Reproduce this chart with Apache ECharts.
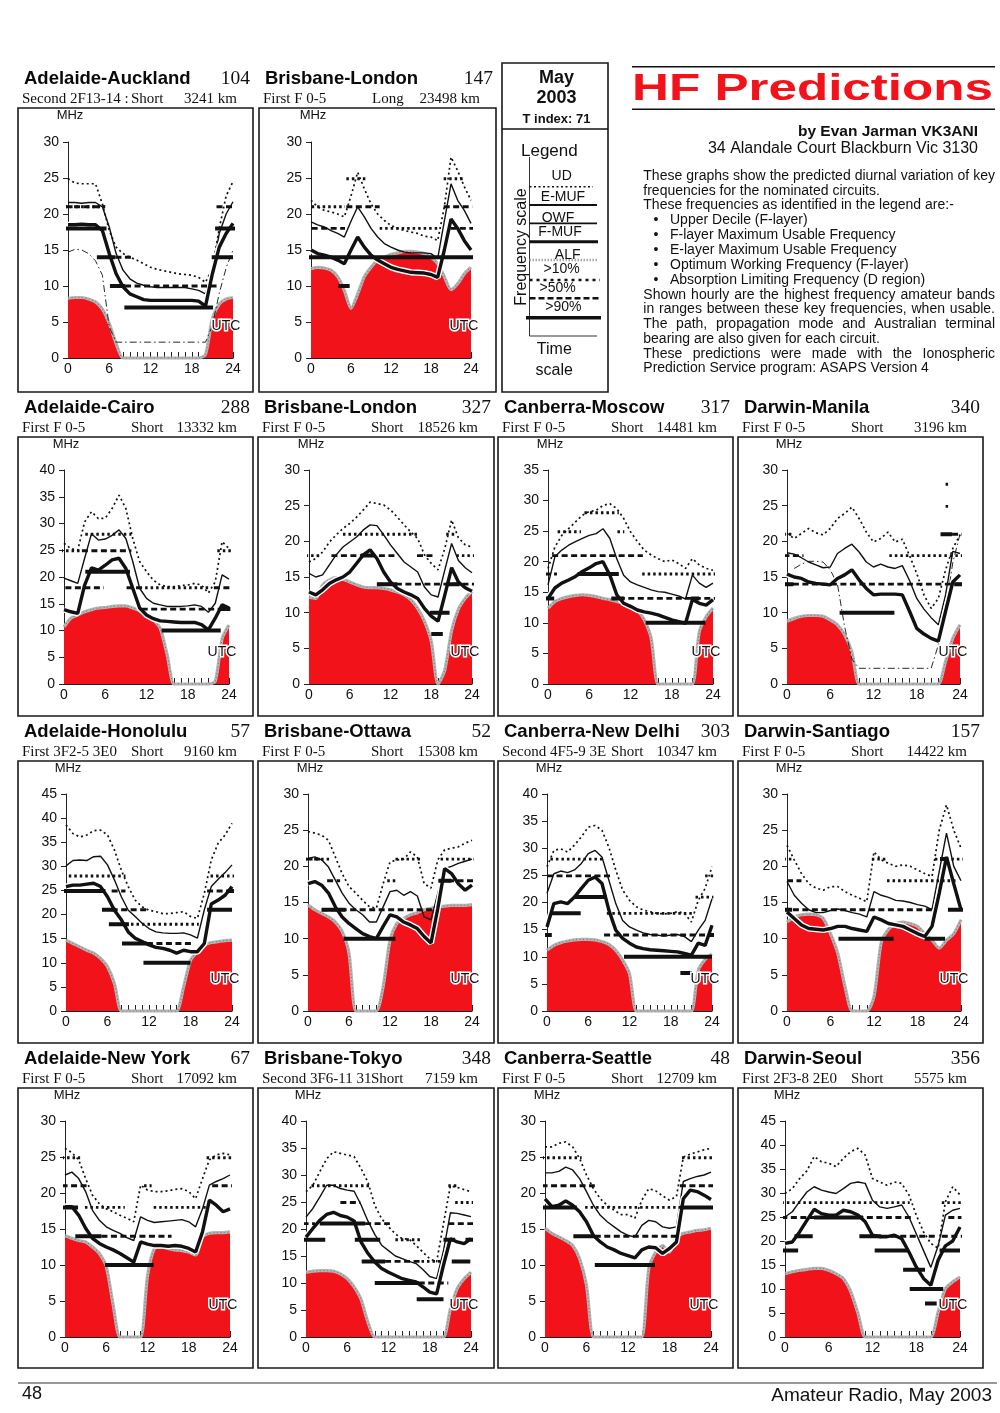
<!DOCTYPE html>
<html>
<head>
<meta charset="utf-8">
<title>HF Predictions - May 2003</title>
<script src="https://cdn.jsdelivr.net/npm/echarts/dist/echarts.min.js"></script>
<style>
  html, body { margin: 0; padding: 0; background: #fff; }
  #page { width: 1000px; height: 1413px; }
</style>
</head>
<body>
<div id="page"></div>
<script>
/* ---------------------- Datos: 14 circuitos, hora UTC 0..24 ---------------------- */
const HOURS = [0,1,2,3,4,5,6,7,8,9,10,11,12,13,14,15,16,17,18,19,20,21,22,23,24];

const NAMES = ["Adelaide-Auckland","Brisbane-London","Adelaide-Cairo","Brisbane-London","Canberra-Moscow","Darwin-Manila",
  "Adelaide-Honolulu","Brisbane-Ottawa","Canberra-New Delhi","Darwin-Santiago","Adelaide-New York","Brisbane-Tokyo",
  "Canberra-Seattle","Darwin-Seoul"];
const BEARINGS = ["104","147","288","327","317","340","57","52","303","157","67","348","48","356"];
const MODES = ["Second 2F13-14 :","First F 0-5","First F 0-5","First F 0-5","First F 0-5","First F 0-5",
  "First 3F2-5 3E0","First F 0-5","Second 4F5-9 3E","First F 0-5","First F 0-5","Second 3F6-11 31",
  "First F 0-5","First 2F3-8 2E0"];
const PATHS = ["Short","Long","Short","Short","Short","Short","Short","Short","Short","Short","Short","Short","Short","Short"];
const DISTS = ["3241 km","23498 km","13332 km","18526 km","14481 km","3196 km","9160 km","15308 km","10347 km",
  "14422 km","17092 km","7159 km","12709 km","5575 km"];
const YMAX = [30,30,40,30,35,30,45,30,40,30,30,40,30,45];

// Upper decile
const UD = [
  [24.9,24.3,24.2,24.2,24.2,21.4,17.7,15.4,14.5,14,13.6,13.1,12.6,12.3,12.1,11.9,11.7,11.6,11.5,11.2,10.5,12.5,18,22.5,24.5],
  [21.9,21,20.5,20.3,20,19.6,22.5,25.8,23.5,21.4,20,19.1,18.4,18,17.7,17.5,17.3,16.9,16.8,16.3,21,27.9,26,23.8,21.9],
  [26.3,25.3,25,30.3,32.2,30.9,31,32.8,35.3,32.8,27.2,22.9,21,19.4,18.5,18.2,18.2,18.4,18.5,18.8,18.5,17,19.1,26.6,25.3],
  [17.1,17.6,18.5,19.9,20.9,21.8,22.5,23.4,24.4,25.5,25.3,25.1,24.4,23.4,22.3,21.3,20.4,18.1,16.9,16,19,23,20.5,19.5,19.2],
  [18.9,22.4,24.3,25.4,26.5,27.6,28.2,28.4,29.2,29.5,28.7,27.1,24.9,23.3,21.9,21.1,20.5,20,20.3,19.7,18.9,20.5,19.5,18.9,18.6],
  [21.1,20.4,21.1,21.8,21.2,20.9,21.8,23.2,23.9,24.8,23.2,21.3,19.9,20.4,21.3,19.9,20.3,18,15.5,12.5,10.6,12,16,19,20.9],
  [38.6,36.8,36.1,36.5,37.4,37.5,36.5,33.4,29.2,25.8,23,21.6,20.9,20.6,20.2,20.2,20.4,20.6,19.6,19.2,24.4,31.3,34.8,36.5,38.9],
  [24.8,24.6,24.3,23.6,21.3,19,17.2,16.3,15.3,14.4,14.2,17.6,20.6,20.9,21,22,21.3,17.6,17,20.9,22.3,22.5,22.7,23.2,23.6],
  [26.6,29.6,29.9,29.3,30.6,32.1,33.9,34.2,33.3,30.2,26,22.3,20.4,19.2,18.6,18.3,18,17.9,18,18.3,18,16.4,20.4,22.6,26.6],
  [22.9,20.9,19,17.6,17,16.7,17.2,17.2,16.5,16,15.6,15.1,22,20.9,20.4,20,20.2,20,19.5,19,18.6,25,28.5,25,22.5],
  [26.2,25.6,24.6,22,19.7,18.5,17.8,17.4,16.9,16.5,16,21.1,20.4,20.2,20.2,20.3,20.5,20.6,20.2,19.2,22,24.6,25.3,25.5,25.3],
  [26.9,28.1,30.6,33,34.3,34,33.7,33.4,31.2,28.7,24.4,21.9,20.4,19.1,18.2,18.1,17,15.7,14.5,13.9,21,28,27.7,27.3,26.9],
  [26.4,26.4,26.9,27.1,26.4,24.8,22.5,20.6,19.2,18.3,17.6,17,17,16.5,19,20.6,20.3,19.6,19,19.5,25,25.4,25.7,26,26.2],
  [29.9,30.9,33,34.6,37.6,36.5,36.2,35.5,37.2,38.6,39.3,37.9,33,32.3,31.6,32.3,32,29.6,25.4,21.9,19.5,18.5,28.2,31.3,29.6]
];

// F-layer MUF
const FMUF = [
  [21.6,21.6,21.5,21.6,21.6,21,18.2,14.5,12.2,11,10.4,10.1,9.9,9.8,9.8,9.8,9.8,9.8,9.6,9.4,8.9,12,17.3,20,21.7],
  [18.9,18.5,18.2,17.7,17.3,16.8,19,21,19.6,18,16.8,15.9,15.4,15,14.7,14.6,14.6,14.6,14.5,13.8,19,24.2,21.9,20.5,18.7],
  [19.8,19.3,18.8,23.5,28.1,26.9,27.1,27.8,28.8,27.2,22.9,17.9,16,15.1,14.8,14.5,14.5,14.5,14.6,14.8,14.5,13.4,15.1,20.4,19.6],
  [15.5,15,15.3,16.7,18.1,19.2,19.9,20.6,21.6,22.3,22.2,20.9,19.5,18.3,17.1,16.4,15.7,13.6,12.5,12.2,16,19.7,17.3,16.3,15.6],
  [16.2,20.8,21.9,22.7,23.3,23.8,24.3,24.6,25.4,23.8,20.5,17.8,16.7,16.2,15.8,15.4,15.1,15,14.7,14.4,13.9,17.8,16.5,15.8,16.5],
  [18.4,18.2,17.7,17.1,16.7,16.3,16.4,18.3,19,19.6,18.5,17.1,16.4,16.8,16.4,16.2,16.6,14.5,12,10.5,9.3,8.3,12.5,18.6,18.3],
  [30.1,31.2,31.3,31.2,32,32.1,30.3,27.2,23.7,20.9,19.6,18.2,17.1,16.4,16.2,16.1,16.1,16.2,15.8,15.1,21,25.8,27.3,28.7,30.3],
  [21.1,21.3,20.9,19.9,18.1,16.3,14.9,14,13.3,12.3,12.3,14.4,16.5,16.7,16,16.5,15.9,13,12.6,16.3,19.7,20,20.4,20.7,21],
  [21.7,25.3,25.8,25.5,26,27.2,29,29.6,28.4,24.1,19.8,16.7,15.5,14.9,14.4,14.1,14,13.8,14,14.1,13.7,12.8,14.9,16.7,20.7],
  [17.9,16,14.9,14,13.6,13.6,13.9,14.1,13.9,13.6,13.4,13,16.5,16,15.7,15.3,15.2,15,14.7,14.5,14,19.3,24.6,20,18],
  [22.5,22.9,22,20.2,17.6,16.2,15.3,14.8,14.4,13.8,13.4,16.7,16.2,15.9,16,16.1,16.2,16.3,16,15.3,17.8,21.1,21.6,22,22.5],
  [22.2,23.8,25.9,28.1,28.1,27.5,27.2,27,24.5,21.5,19,17,16,15,14.5,14,13.6,12.5,11.2,10.8,16,23,22.9,22.6,22.3],
  [22.8,22.8,23,23.6,23.2,22,20.2,18.3,16.9,16,15.3,14.6,14.1,13.9,15.5,16.2,16,15.3,15.1,15.3,21.6,22,22.3,22.5,22.9],
  [25,26.1,28.2,30.2,31.3,30.6,30.2,29.9,30.9,32,32.3,32,28.5,27.1,26.8,27.1,27.5,25,21.5,18,14.5,19,25.4,26.4,26.8]
];

// Optimum working frequency
const OWF = [
  [18.5,18.5,18.6,18.5,18.5,17.7,14.5,11.7,9.9,8.9,8.5,8.1,8,8,8,8,8,8,8,7.9,7.2,11.7,15.4,17.3,18.7],
  [15,14.5,14.3,14,13.6,13.1,15,16.8,15.4,14.3,13.6,13.1,12.6,12.3,12.1,11.9,11.85,11.8,11.6,11.2,15,19.3,18,16.3,15],
  [13.9,13.5,13.2,18.5,21.7,21.3,22.2,23.2,23.5,21.6,17.9,14.2,12.9,12.2,11.8,11.7,11.6,11.5,11.5,11.5,11.1,10.1,12.3,14.8,14.2],
  [12.9,12.5,13.2,14.1,14.6,15,15.7,16.9,18.1,18.8,17.6,15.7,14.3,13.4,12.9,12.5,12,10.6,9.5,8.8,12.5,16.3,14.3,13.5,13],
  [14,15.7,16.5,17,17.6,18.4,19,19.7,20,17.8,14.6,13.2,12.7,12.1,11.8,11.6,11.3,10.9,10.5,10.2,9.9,13.8,13.2,12.9,13.8],
  [15.4,15,14.8,14.3,14.1,14,13.9,14.8,15.3,16,14.6,13.4,12.5,12.6,12.6,12.6,12.5,10.2,7.8,7,6.4,6,10.2,14.3,15.3],
  [25.8,26.1,26.1,26.3,26.5,25.8,23.7,20.9,18.9,16.4,15.1,14.4,13.7,13.2,13,12.6,12,12.6,12.3,12.3,14,22.2,23,24,25.8],
  [17.6,17.9,17.4,16.3,14.4,13,12.1,11.4,10.7,10.3,10,11.7,13.3,13,12.3,11.9,11.4,10.3,9.4,14.2,19.7,19,17.6,16.7,17.4],
  [15.5,19.8,20.1,19.8,21,22.6,24.1,24.7,23.5,18.6,14.9,13.4,12.5,11.8,11.5,11.3,11.2,11.1,11,10.9,10.6,10.3,12.5,12.1,15.8],
  [13.7,12.8,11.9,11.4,11.3,11.2,11.4,11.7,11.7,11.4,11.2,11,13,12.6,12.1,11.9,11.7,11.2,10.7,10.3,11.7,16.3,21.3,17.6,14],
  [18.1,18.1,16.9,15.1,13.7,13,12.5,12.1,11.6,11,10.4,13.2,12.9,12.7,12.7,12.6,12.7,12.6,12.3,11.8,14.6,19,18.3,17.4,17.8],
  [18.5,20.1,21.6,22.7,23.1,22.5,22.2,21.5,17.6,15.5,13.9,12.7,12,11.4,10.8,10.5,10.2,9.3,8.3,8,13.3,18.2,17.6,17.3,18.2],
  [19.2,18.1,18.3,18.9,18.3,17.4,16,14.1,13.2,12.5,12.1,11.6,11.3,11,12.1,12.5,12.4,11.6,12.3,13.2,19.2,20.4,20.2,19.7,19.1],
  [19.5,19.8,21.9,24.3,26.6,25.7,25.4,25.4,26.4,26.1,25.4,24,21.2,20.9,20.9,21.2,20.5,17.7,14.6,12.2,10.8,16,19,20,22.9]
];

// Absorption limiting frequency
const ALF = [
  [8.3,8.4,8.4,8.2,7.8,6.8,4.8,2,0,0,0,0,0,0,0,0,0,0,0,0,0.5,5.5,7.5,8.2,8.4],
  [12.4,12.6,12.5,12.2,11.3,9.4,6.9,8.9,11.3,12.6,13.6,14,14.4,14.6,14.8,14.8,14.7,14.5,14,13.1,11.3,9.5,10.3,11.7,12.6],
  [10.7,12.3,12.9,13.5,13.9,14.2,14.3,14.5,14.6,14.6,14.2,13.7,12.9,12,10.4,5.5,0,0,0,0,0,0,0.5,8.5,11],
  [12.2,12,13.9,14.6,14.9,14.7,14.3,13.9,13.6,13.5,13.5,13.4,13.2,12.9,12.5,11.8,10.6,8.8,6,0,2,7.5,10.5,12,13],
  [12.4,13.5,14,14.3,14.5,14.6,14.5,14.3,14,13.8,13.5,13.2,12.8,12.1,10.5,7.5,0,0,0,0,0,0,8.5,11,12.4],
  [8.8,9.2,9.5,9.6,9.6,9.5,9,8.3,6.9,4.5,0,0,0,0,0,0,0,0,0,0,0,0,3.2,6.4,8.3],
  [14.7,14,13.3,12.6,12,10.9,9.2,5.7,0,0,0,0,0,0,0,0,0,5,10.5,12.3,13.7,14.2,14.4,14.6,14.7],
  [14.7,14,13.5,13,12.3,11,8,0,0,0,0,3.4,9.8,12.1,12.8,13.3,13.6,14,14.2,14.4,14.5,14.6,14.6,14.6,14.7],
  [11.2,12.1,12.6,12.9,13.1,13.2,13.2,13.1,12.8,12.3,11.2,9.4,6.9,0,0,0,0,0,0,0,0,0,7.5,9.5,10.5],
  [12.3,13,13.3,13.4,13.3,12.8,10.7,8,3.4,0,0,0,2,9.5,11.3,12.1,12.3,12.1,11.7,10.7,9.8,8.7,9.8,10.7,12.6],
  [14.1,13.7,13.4,13.2,12.5,11.6,9.8,4.5,0,0,0,0,8.5,12.3,12.5,12.3,12.1,12,11.8,11.4,13.9,14.4,14.5,14.5,14.6],
  [12,12.2,12.3,12.3,12.2,11.7,10.8,9.3,7,2.8,0,0,0,0,0,0,0,0,0,0,0,5.2,9,10.8,12],
  [15.1,14.4,13.9,13.4,12.7,10.9,7.2,0,0,0,0,0,0,0,0,9.5,11.8,12.7,11.8,13.9,14.4,14.6,14.8,14.9,15.1],
  [13.2,13.6,13.9,14.1,14.3,14.3,13.9,13.2,12.2,9.5,5,0,0,0,0,0,0,0,0,0,0,5.2,10.1,11.5,12.5]
];

// E-layer MUF (only drawn where visible)
const EMUF = [
  [14.7,15.1,15,14.5,13.5,11.5,4.3,2.2,2.2,2.2,2.2,2.2,2.2,2.2,2.2,2.2,2.2,2.2,2.2,2.2,2.2,4.5,9,12.5,15],
  null, null, null, null,
  [null,16.2,16.8,17.2,17.2,17.1,16,14,8,3.5,2.2,2.2,2.2,2.2,2.2,2.2,2.2,2.2,2.2,2.2,2.2,5.5,10.5,17,21],
  null, null, null, null, null, null, null, null
];

// Amateur bands usable: [from hour, to hour, MHz]
const BAND10 = [
  [[-0.5,5.4,21]],
  [[0.1,5.1,21],[5.3,8.6,24.9],[10.3,19.2,18],[19.9,22.8,24.9]],
  [[-0.5,2.4,24.9],[3.1,9.8,28],[11.8,21.4,18],[22.3,24.5,24.9]],
  [[-0.5,1.6,18],[5,15.9,21],[20.2,21.4,21],[21.7,24.3,18]],
  [[1.4,4.8,24.9],[5.3,10.3,28],[10.1,11.1,24.9],[13.7,24.4,18]],
  [[-0.5,0.7,21],[14.2,24.8,18],[22,22.4,28],[22,22.4,24.9]],
  [[0.4,8.6,28],[8.6,19.2,18],[20.9,24.7,28]],
  [[-0.5,3.5,21],[11.6,12.8,18],[12.8,16.4,21],[19.4,24.5,21]],
  [[0.5,8.5,28],[8.7,21.1,18],[21.6,24.2,21],[23,24.2,24.9]],
  [[-0.5,0.9,21],[11.7,13.8,21],[13.8,23.6,18],[20.4,24.5,21]],
  [[-0.5,2.2,24.9],[2.9,8.7,18],[11.5,12.6,21],[12.9,20.6,18],[20.6,24.8,24.9]],
  [[0.8,9.6,28],[13,16.6,18],[16.8,20.2,14],[20.7,22.2,28],[21.7,24.4,24.9]],
  [[-0.5,5.3,24.9],[5.8,19.8,18],[19.8,24.6,24.9]],
  [[-0.5,17.1,28],[21.5,24.4,28]]
];
const BAND50 = [
  [[-0.5,5.4,21],[6.9,9.3,14],[8.3,21.8,10],[21.6,24.7,21]],
  [[0.1,5.1,18],[5.3,10.3,21],[19.9,24.2,21],[20.9,24.5,18]],
  [[0.2,5.8,18],[2.6,9.8,24.9],[9.1,11.5,18],[11.3,23.8,14],[21.8,24.5,18]],
  [[3.3,13,18],[15.9,18.3,18],[10,24.3,14]],
  [[-0.5,1.3,18],[0.6,13.8,21],[10.3,24.4,14]],
  [[-0.5,2.3,18],[-0.5,24.8,14],[22.9,24.5,21]],
  [[6.6,8.6,24.9],[6.6,12,21],[11.7,18.5,14],[20.4,24.7,24.9]],
  [[-0.5,2,21],[2.8,4.7,18],[2,18.4,14],[19.1,24.5,18]],
  [[0,9.5,24.9],[8.3,24.8,14]],
  [[-0.5,20.4,14],[0,2,18]],
  [[-0.5,3.4,21],[5.3,15.5,14],[21.4,24.8,21]],
  [[-0.5,1.3,21],[5,7.9,24.9],[8.6,12.2,21],[11.5,16.6,14],[16.4,20.7,10],[20.7,24.4,21]],
  [[-0.5,7.2,21],[7.2,19.5,14],[19.5,24.6,21]],
  [[-0.5,17.6,24.9],[13.2,20.6,21],[21.5,24.4,21],[22.4,24.2,24.9]]
];
const BAND90 = [
  [[-0.6,5.6,18],[4.2,6.9,14],[6.1,8.3,10],[8.2,21.1,7],[20.9,24,14],[21.4,25,18]],
  [[-0.7,24.5,14],[4.1,5.8,10]],
  [[3.1,9.6,21],[14.2,22.8,10],[22.8,24.2,14]],
  [[7.6,9.6,18],[10,13,14],[17.8,20.7,10],[18,19.7,7],[20.2,22.2,14]],
  [[-0.5,0.9,14],[4.3,10.3,18],[9.2,11.1,14],[14.2,22.9,10],[20.8,22,14]],
  [[-0.5,0.9,14],[7.3,14.9,10],[21.3,22.9,21],[23.2,24.8,14]],
  [[-0.6,5.7,24.9],[5.2,7.2,21],[6.2,9.1,18],[8.1,11.7,14],[11.2,18,10],[20.4,24,21],[23.5,24.7,24.9]],
  [[2,5.5,14],[5.2,12.8,10],[19.1,21,18]],
  [[-0.5,0.7,14],[0.5,4.9,18],[3.9,8.7,21],[11.2,24,10],[19.4,21.1,7],[23.5,24.5,14]],
  [[-0.5,0.7,14],[7.1,14.7,10],[19,21.8,10],[21.1,22.2,21],[22.2,24.5,14]],
  [[-0.5,1.9,18],[1.5,5.3,14],[5.8,12.9,10]],
  [[-0.6,2.8,18],[2,8.6,21],[7.1,10.8,18],[8.1,11.5,14],[10,16.4,10],[16.1,20,7],[20,21.7,18],[21.2,23.9,14],[23.2,24.9,18]],
  [[-0.5,4.6,18],[4.1,7.2,14],[7.2,15.9,10],[19.5,24.8,18]],
  [[-0.5,1.8,18],[1.3,3.8,21],[4,10.7,24.9],[10.2,13.2,21],[12.3,16.9,18],[16.2,19.2,14],[17.1,21.7,10],[19.2,20.8,7],[21.2,24,18]]
];

const PARAGRAPH = [
  "These graphs show the predicted diurnal variation of key",
  "frequencies for the nominated circuits.",
  "These frequencies as identified in the legend are:-",
  "Upper Decile (F-layer)",
  "F-layer Maximum Usable Frequency",
  "E-layer Maximum Usable Frequency",
  "Optimum Working Frequency (F-layer)",
  "Absorption Limiting Frequency (D region)",
  "Shown hourly are the highest frequency amateur bands",
  "in ranges between these key frequencies, when usable.",
  "The path, propagation mode and Australian terminal",
  "bearing are also given for each circuit.",
  "These predictions were made with the Ionospheric",
  "Prediction Service program: ASAPS Version 4"
];
const LEGEND_LABELS = ["UD","E-MUF","OWF","F-MUF","ALF",">10%",">50%",">90%"];

/* ---------------------- Maquetación ---------------------- */
const BOXES = [ // left, top, right, bottom
  [18,108,253,392],[259,108,496,392],
  [18,437,253,716],[258,437,494,716],[498,437,733,716],[738,437,983,716],
  [18,761,253,1043],[258,761,494,1043],[498,761,733,1043],[738,761,983,1043],
  [18,1088,253,1368],[258,1088,494,1368],[498,1088,733,1368],[738,1088,983,1368]
];
const PLOTS = [ // x(0h), y(top), x(24h), y(0 MHz)
  [68,142,233,358],[311,142,471,358],
  [64,470,229,684],[309,470,472,684],[548,470,713,684],[787,470,960,684],
  [66,794,232,1011],[308,794,472,1011],[547,794,712,1011],[787,794,961,1011],
  [65,1121,230,1337],[306,1121,471,1337],[545,1121,711,1337],[785,1121,960,1337]
];

const SANS = '"Liberation Sans", Arial, sans-serif';
const SERIF = '"Liberation Serif", "Times New Roman", serif';
const RED = "#f2121a";

const measureCtx = document.createElement("canvas").getContext("2d");
function textWidth(str, font) { measureCtx.font = font; return measureCtx.measureText(str).width; }

function txt(x, y, text, font, opts) {
  const o = opts || {};
  return {
    type: "text", x, y, z: o.z || 100, rotation: o.rotation || 0, scaleX: o.scaleX || 1,
    style: {
      text, font, fill: o.fill || "#111",
      textAlign: o.align || "left", align: o.align || "left",
      textVerticalAlign: "middle", verticalAlign: "middle",
      stroke: o.stroke, lineWidth: o.stroke ? 3 : 0
    }
  };
}
function hline(x1, x2, y, width, dash, color) {
  return { type: "line", z: 50, shape: { x1, y1: y, x2, y2: y },
    style: { stroke: color || "#111", lineWidth: width, lineDash: dash || null } };
}

const pts = vals => vals.map((v, h) => [HOURS[h], v]);
function segPts(segs) {
  const out = [];
  segs.forEach(([a, b, f]) => { out.push([a, f], [b, f], [b, null]); });
  return out;
}

/* ---------------------- Construcción ---------------------- */
const grids = [], xAxes = [], yAxes = [], series = [], graphics = [];

NAMES.forEach((name, i) => {
  const [bl, bt, br, bb] = BOXES[i];
  const [x0, yt, x24, y0] = PLOTS[i];
  grids.push({ left: x0, top: yt, width: x24 - x0, height: y0 - yt });
  xAxes.push({
    type: "value", gridIndex: i, min: 0, max: 24, interval: 6,
    axisLine: { lineStyle: { color: "#222", width: 1 } },
    axisTick: { inside: true, length: 6, lineStyle: { color: "#222" } },
    minorTick: { show: true, splitNumber: 6, length: 6, lineStyle: { color: "#222" } },
    axisLabel: { fontSize: 14, fontFamily: SANS, color: "#111", margin: 4 },
    splitLine: { show: false }
  });
  yAxes.push({
    type: "value", gridIndex: i, min: 0, max: YMAX[i], interval: 5,
    axisLine: { show: true, lineStyle: { color: "#222", width: 1 } },
    axisTick: { show: true, length: 5, lineStyle: { color: "#222" } },
    axisLabel: { fontSize: 14, fontFamily: SANS, color: "#111", margin: 9 },
    splitLine: { show: false }
  });

  const base = { type: "line", xAxisIndex: i, yAxisIndex: i, showSymbol: false, silent: true, animation: false };
  // ALF relleno rojo + borde gris punteado
  series.push(Object.assign({}, base, {
    data: pts(ALF[i]), smooth: 0.25, z: 1,
    lineStyle: { width: 0, opacity: 0 }, areaStyle: { color: RED, opacity: 1 }
  }));
  series.push(Object.assign({}, base, {
    data: pts(ALF[i]), smooth: 0.25, z: 2, clip: false,
    lineStyle: { color: "#b4b4b4", width: 3.2 }
  }));
  series.push(Object.assign({}, base, {
    data: pts(ALF[i]), smooth: 0.25, z: 2, clip: false,
    lineStyle: { color: "#7a7a7a", width: 1.1, type: [1, 2.5] }
  }));
  if (EMUF[i]) {
    series.push(Object.assign({}, base, {
      data: pts(EMUF[i]), z: 3, lineStyle: { color: "#111", width: 0.9, type: [7, 3, 1.5, 3] }
    }));
  }
  series.push(Object.assign({}, base, {
    data: pts(UD[i]), z: 3, lineStyle: { color: "#111", width: 1.7, type: [2, 3] }
  }));
  series.push(Object.assign({}, base, {
    data: pts(FMUF[i]), z: 3, lineStyle: { color: "#111", width: 1.4 }
  }));
  series.push(Object.assign({}, base, {
    data: pts(OWF[i]), z: 4, lineStyle: { color: "#fff", width: 6.2 }
  }));
  series.push(Object.assign({}, base, {
    data: pts(OWF[i]), z: 4, lineStyle: { color: "#111", width: 3.4 }
  }));
  // Bandas
  series.push(Object.assign({}, base, {
    data: segPts(BAND10[i]), z: 5, clip: false, lineStyle: { color: "#111", width: 2.9, type: [2.5, 3] }
  }));
  series.push(Object.assign({}, base, {
    data: segPts(BAND50[i]), z: 5, clip: false, lineStyle: { color: "#111", width: 2.9, type: [6, 3.5] }
  }));
  series.push(Object.assign({}, base, {
    data: segPts(BAND90[i]), z: 6, clip: false, lineStyle: { color: "#111", width: 4 }
  }));

  // Caja y textos
  graphics.push({ type: "rect", z: 0, shape: { x: bl, y: bt, width: br - bl, height: bb - bt },
    style: { fill: "none", stroke: "#1a1a1a", lineWidth: 1.6 } });
  graphics.push(txt(bl + 6, bt - 29, name, "bold 18.5px " + SANS, { fill: "#0a0a0a" }));
  graphics.push(txt(br - 3, bt - 29, BEARINGS[i], "19.5px " + SERIF, { align: "right" }));
  graphics.push(txt(bl + 4, bt - 8.5, MODES[i], "15px " + SERIF));
  graphics.push(txt(bl + 113, bt - 8.5, PATHS[i], "15px " + SERIF));
  graphics.push(txt(br - 16, bt - 8.5, DISTS[i], "15px " + SERIF, { align: "right" }));
  graphics.push(txt(x0 + 2, bt + 7, "MHz", "13px " + SANS, { align: "center" }));
  // halo blanco debajo, texto negro encima
  graphics.push(txt(x24 - 7, y0 - 32, "UTC", "14px " + SANS, { align: "center", fill: "#fff", stroke: "#fff", z: 99 }));
  graphics.push(txt(x24 - 7, y0 - 32, "UTC", "14px " + SANS, { align: "center" }));
});

/* ---------------------- Leyenda ---------------------- */
graphics.push({ type: "rect", z: 0, shape: { x: 502, y: 63, width: 106, height: 329 },
  style: { fill: "none", stroke: "#1a1a1a", lineWidth: 1.6 } });
graphics.push(hline(502, 608, 129, 1.5));
graphics.push(txt(556.5, 78, "May", "bold 18px " + SANS, { align: "center" }));
graphics.push(txt(556.5, 98, "2003", "bold 18px " + SANS, { align: "center" }));
graphics.push(txt(556.5, 119, "T index: 71", "bold 13px " + SANS, { align: "center" }));
graphics.push(txt(521, 151, "Legend", "17px " + SANS));
graphics.push({ type: "line", z: 50, shape: { x1: 529.5, y1: 157, x2: 529.5, y2: 336 }, style: { stroke: "#333", lineWidth: 1 } });
graphics.push(hline(529.5, 597, 336, 1, null, "#333"));
graphics.push(txt(521.5, 247, "Frequency scale", "16px " + SANS, { align: "center", rotation: Math.PI / 2 }));
const LEG_Y = [176, 196.7, 218.3, 232.3, 255, 269.3, 287.7, 307.3];
const LEG_X = [561.7, 563, 558, 560, 567.7, 561.7, 557.7, 563.3];
LEGEND_LABELS.forEach((lab, k) => graphics.push(txt(LEG_X[k], LEG_Y[k], lab, "14px " + SANS, { align: "center" })));
graphics.push(hline(529.5, 593, 186.7, 1.6, [2, 2.5]));
graphics.push(hline(529.5, 597, 205, 1.8));
graphics.push(hline(529.5, 597, 223.3, 1.8));
graphics.push(hline(529.5, 598, 241.7, 3));
graphics.push(hline(529.5, 598, 260, 2.4, [1.5, 1.5], "#a8a8a8"));
graphics.push(hline(529.5, 600, 280, 2.5, [3, 4]));
graphics.push(hline(529.5, 600, 298.3, 2.5, [6, 3]));
graphics.push(hline(526, 601, 317.7, 3.5));
graphics.push(txt(554.3, 349.3, "Time", "16px " + SANS, { align: "center" }));
graphics.push(txt(554.3, 370.7, "scale", "16px " + SANS, { align: "center" }));

/* ---------------------- Cabecera y texto ---------------------- */
graphics.push(hline(632, 995, 66.7, 1.6));
graphics.push(hline(632, 995, 109.3, 1.6));
const HF_FONT = "bold 37px " + SANS;
graphics.push(txt(632, 89.5, "HF Predictions", HF_FONT, { fill: RED, scaleX: 361 / textWidth("HF Predictions", HF_FONT) }));
graphics.push(txt(978, 131.7, "by Evan Jarman VK3ANI", "bold 15.5px " + SANS, { align: "right" }));
graphics.push(txt(978, 148.3, "34 Alandale Court Blackburn Vic 3130", "16px " + SANS, { align: "right" }));

const PARA_Y = [176, 190.7, 205.3, 220.3, 235, 250, 265, 280, 295, 309.3, 324.3, 339, 354, 368.3];
const JUSTIFY = [0, 8, 9, 10, 12];
const PARA_FONT = "14px " + SANS;
PARAGRAPH.forEach((line, k) => {
  const y = PARA_Y[k];
  if (k >= 3 && k <= 7) {
    graphics.push(txt(656, y, "\u2022", PARA_FONT, { align: "center" }));
    graphics.push(txt(670, y, line, PARA_FONT));
  } else if (JUSTIFY.includes(k)) {
    const words = line.split(" ");
    const wsum = words.reduce((s, w) => s + textWidth(w, PARA_FONT), 0);
    const gap = (995 - 643.3 - wsum) / (words.length - 1);
    let cx = 643.3;
    words.forEach(w => { graphics.push(txt(cx, y, w, PARA_FONT)); cx += textWidth(w, PARA_FONT) + gap; });
  } else {
    graphics.push(txt(643.3, y, line, PARA_FONT));
  }
});

/* ---------------------- Pie ---------------------- */
graphics.push(hline(18, 997, 1383, 1.2, null, "#333"));
graphics.push(txt(22, 1394, "48", "18px " + SANS));
graphics.push(txt(992, 1396, "Amateur Radio, May 2003", "19px " + SANS, { align: "right" }));

const chart = echarts.init(document.getElementById("page"), null, { renderer: "canvas", width: 1000, height: 1413 });
chart.setOption({
  animation: false,
  backgroundColor: "#fff",
  grid: grids, xAxis: xAxes, yAxis: yAxes, series,
  graphic: { elements: graphics }
});
</script>
</body>
</html>
